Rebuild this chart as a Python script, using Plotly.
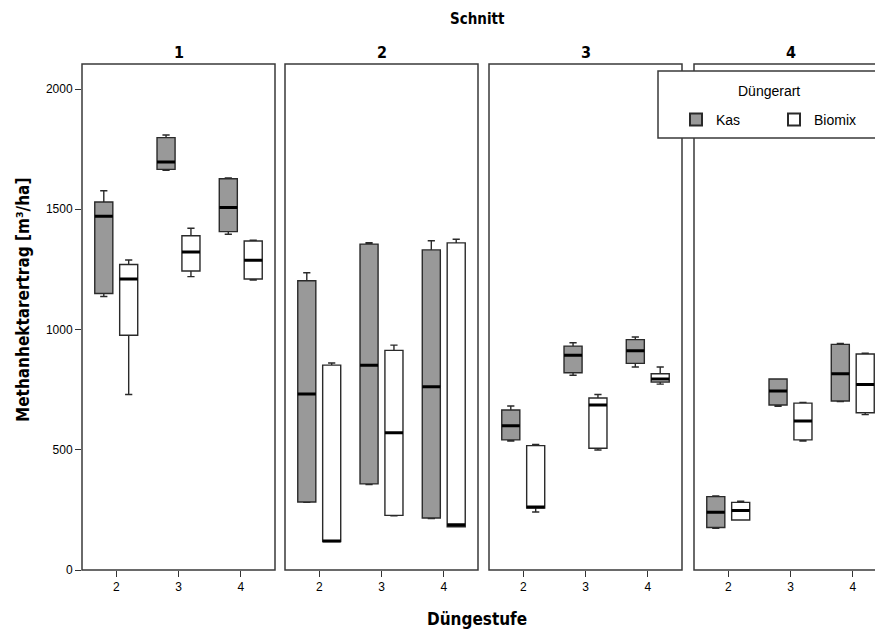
import plotly.graph_objects as go

# ---- data -------------------------------------------------------------
cuts = ["1", "2", "3", "4"]            # Schnitt
levels = [2, 3, 4]                      # Düngestufe
series_names = ["Kas", "Biomix"]

kas_lower  = [[1137, 1662, 1396], [281, 355, 214], [536, 810, 844], [173, 681, 700]]
kas_q1     = [[1150, 1666, 1407], [283, 358, 216], [541, 820, 859], [177, 686, 703]]
kas_median = [[1471, 1696, 1507], [732, 851, 762], [600, 893, 912], [240, 744, 816]]
kas_q3     = [[1530, 1798, 1627], [1203, 1355, 1331], [665, 931, 958], [305, 794, 938]]
kas_upper  = [[1577, 1809, 1630], [1236, 1361, 1369], [682, 945, 969], [308, 794, 942]]

bio_lower  = [[730, 1220, 1206], [118, 225, 180], [241, 499, 773], [208, 536, 646]]
bio_q1     = [[976, 1243, 1210], [118, 227, 180], [258, 506, 782], [208, 541, 654]]
bio_median = [[1210, 1322, 1288], [121, 571, 188], [262, 686, 794], [247, 620, 771]]
bio_q3     = [[1270, 1390, 1368], [852, 913, 1360], [517, 715, 816], [281, 694, 898]]
bio_upper  = [[1289, 1421, 1371], [861, 935, 1375], [522, 730, 844], [286, 697, 901]]

y_ticks = [0, 500, 1000, 1500, 2000]

# ---- layout geometry ---------------------------------------------------
W, H = 875, 632
panel_px = [(82, 275), (285, 478), (489, 682), (694, 887)]
top_px, bot_px = 64, 570
px_per_unit = 193 / 3.1
x_lo = 1.45

BOLD = "Liberation Sans Narrow, Arial Narrow, DejaVu Sans Condensed, Arial, sans-serif"
REG = "Liberation Sans, Arial, sans-serif"

fill_colors = {"Kas": "#999999", "Biomix": "#ffffff"}
stats = {
    "Kas": (kas_lower, kas_q1, kas_median, kas_q3, kas_upper),
    "Biomix": (bio_lower, bio_q1, bio_median, bio_q3, bio_upper),
}

fig = go.Figure()

for i, cut in enumerate(cuts):
    xa = "x" if i == 0 else f"x{i+1}"
    for name in series_names:
        lo, q1, med, q3, up = stats[name]
        fig.add_trace(go.Box(
            x=levels, q1=q1[i], median=med[i], q3=q3[i],
            lowerfence=lo[i], upperfence=up[i],
            name=name, legendgroup=name, showlegend=(i == 0),
            fillcolor=fill_colors[name],
            line=dict(color="#2a2a2a", width=1.4),
            whiskerwidth=0.4, boxpoints=False,
            offsetgroup=name, alignmentgroup=f"g{i}",
            xaxis=xa, yaxis="y", hoverinfo="skip",
        ))
        # thick median line overlay
        fig.add_trace(go.Box(
            x=levels, q1=med[i], median=med[i], q3=med[i],
            lowerfence=med[i], upperfence=med[i],
            name=name, legendgroup=name, showlegend=False,
            fillcolor="rgba(0,0,0,0)",
            line=dict(color="#000000", width=3),
            whiskerwidth=0, boxpoints=False,
            offsetgroup=name, alignmentgroup=f"g{i}",
            xaxis=xa, yaxis="y", hoverinfo="skip",
        ))

layout = dict(
    width=W, height=H,
    margin=dict(l=0, r=0, t=0, b=0, autoexpand=False),
    paper_bgcolor="white", plot_bgcolor="white",
    boxmode="group", boxgap=0.2, boxgroupgap=0.275,
    showlegend=True,
    font=dict(family=REG, size=12, color="#000"),
)

ydom = [1 - bot_px / H, 1 - top_px / H]
layout["yaxis"] = dict(
    domain=ydom, range=[0, (bot_px - top_px) / (481 / 2000)],
    tickvals=y_ticks, ticks="outside", ticklen=6, tickwidth=1.3, tickcolor="#333",
    showgrid=False, zeroline=False, showline=False, automargin=False,
    tickfont=dict(family=REG, size=12), anchor="x",
)

shapes = []
annotations = []
for i, (l, r) in enumerate(panel_px):
    key = "xaxis" if i == 0 else f"xaxis{i+1}"
    rr = min(r, W)
    x_hi = x_lo + (rr - l) / px_per_unit
    layout[key] = dict(
        domain=[l / W, rr / W], range=[x_lo, x_hi],
        tickvals=levels, ticktext=[str(v) for v in levels],
        ticks="outside", ticklen=6, tickwidth=1.3, tickcolor="#333",
        showgrid=False, zeroline=False, showline=False, automargin=False,
        tickfont=dict(family=REG, size=12), anchor="y",
    )
    xref = "x domain" if i == 0 else f"x{i+1} domain"
    x1 = 1 if r <= W else (r - l) / (rr - l)
    shapes.append(dict(type="rect", xref=xref, yref="y domain",
                       x0=0, x1=x1, y0=0, y1=1,
                       line=dict(color="#3a3a3a", width=1.5), layer="above"))
    annotations.append(dict(text=f"<b>{cuts[i]}</b>", xref="paper", yref="paper",
                            x=(l + r) / 2 / W, y=1 - 52 / H, showarrow=False,
                            font=dict(family=BOLD, size=16), xanchor="center", yanchor="middle"))

# legend frame (opaque, covers panel borders like the original)
shapes.append(dict(type="rect", xref="paper", yref="paper",
                   x0=658 / W, x1=1.05, y0=1 - 138 / H, y1=1 - 71 / H,
                   fillcolor="white", line=dict(color="#3a3a3a", width=1.5), layer="above"))

annotations += [
    dict(text="<b>Schnitt</b>", xref="paper", yref="paper", x=477 / W, y=1 - 19 / H,
         showarrow=False, font=dict(family=BOLD, size=15), xanchor="center", yanchor="middle"),
    dict(text="<b>Düngestufe</b>", xref="paper", yref="paper", x=477 / W, y=1 - 619 / H,
         showarrow=False, font=dict(family=BOLD, size=17), xanchor="center", yanchor="middle"),
    dict(text="<b>Methanhektarertrag [m³/ha]</b>", xref="paper", yref="paper",
         x=23 / W, y=1 - 300 / H, textangle=-90,
         showarrow=False, font=dict(family=BOLD, size=17), xanchor="center", yanchor="middle"),
    dict(text="Düngerart", xref="paper", yref="paper", x=769 / W, y=1 - 91 / H,
         showarrow=False, font=dict(family=REG, size=14), xanchor="center", yanchor="middle"),
]

layout["shapes"] = shapes
layout["annotations"] = annotations
layout["legend"] = dict(
    x=676 / W, y=1 - 104 / H, xanchor="left", yanchor="top",
    orientation="h", bgcolor="rgba(0,0,0,0)", borderwidth=0,
    font=dict(family=REG, size=14), entrywidth=53, itemsizing="constant",
)

fig.update_layout(**layout)
fig.write_html("out.html", config={"displayModeBar": False},
               post_script="document.body.style.margin='0';")
